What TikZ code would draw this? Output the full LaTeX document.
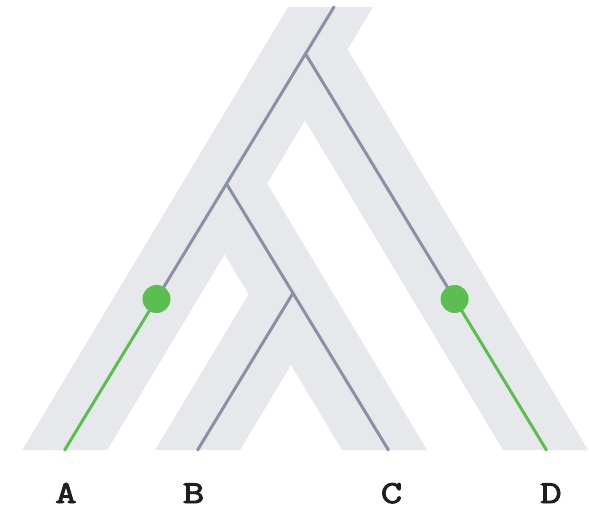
\documentclass[tikz,border=0pt]{standalone}
\usepackage{fontspec}
\newfontfamily\tipfont{Latin Modern Mono}[FakeBold=3,FakeStretch=1.3]
\begin{document}
\begin{tikzpicture}[x=1pt,y=-1pt,
  band/.style={fill=bandgrey,draw=none},
  geneline/.style={draw=genegrey,line width=3pt,line cap=round},
  lossline/.style={draw=lossgreen,line width=3pt,line cap=round},
  eventdot/.style={circle,fill=lossgreen,draw=none,minimum size=28pt,inner sep=0pt},
  tiplabel/.style={anchor=base,inner sep=0pt,font=\fontsize{32}{32}\selectfont\tipfont,text=labelblack}]
\definecolor{bandgrey}{RGB}{230,232,235}
\definecolor{genegrey}{RGB}{138,145,166}
\definecolor{lossgreen}{RGB}{92,190,80}
\definecolor{labelblack}{RGB}{30,30,30}
\useasboundingbox (0,0) rectangle (589,511);

% species tree: ((A,(B,C)),D) drawn as wide bands
\fill[band] (288,7) -- (373,7) -- (107.2,450) -- (22.2,450) -- cycle;        % root + A
\fill[band] (347.6,49.3) -- (588,450) -- (503,450) -- (305,120.2) -- cycle;  % D
\fill[band] (267.1,183.5) -- (427,450) -- (342,450) -- (224.6,254.3) -- cycle; % (B,C) + C
\fill[band] (248.5,294.2) -- (333.5,294.2) -- (240,450) -- (155,450) -- cycle; % B

% gene tree inside the bands
\coordinate (gtop) at (334,7);
\coordinate (groot) at (305.5,53.8);
\coordinate (gleft) at (226.5,183.8);
\coordinate (gbc) at (293,293.1);
\coordinate (tipA) at (64.7,450);
\coordinate (tipB) at (197.6,450);
\coordinate (tipC) at (388.4,450);
\coordinate (tipD) at (546.4,450);

\draw[geneline] (gtop) -- (groot) -- (gleft) -- (156.5,299);
\draw[geneline] (groot) -- (454.6,299);
\draw[geneline] (gleft) -- (gbc);
\draw[geneline] (gbc) -- (tipB);
\draw[geneline] (gbc) -- (tipC);

\node[eventdot] (dotA) at (156.5,299) {};
\node[eventdot] (dotD) at (454.6,299) {};
\draw[lossline] (dotA.center) -- (tipA);
\draw[lossline] (dotD.center) -- (tipD);

% leaf labels
\node[tiplabel] (labA) at (66,503) {A};
\node[tiplabel] (labB) at (193.5,503) {B};
\node[tiplabel] (labC) at (391.5,503) {C};
\node[tiplabel] (labD) at (551,503) {D};
\end{tikzpicture}
\end{document}
